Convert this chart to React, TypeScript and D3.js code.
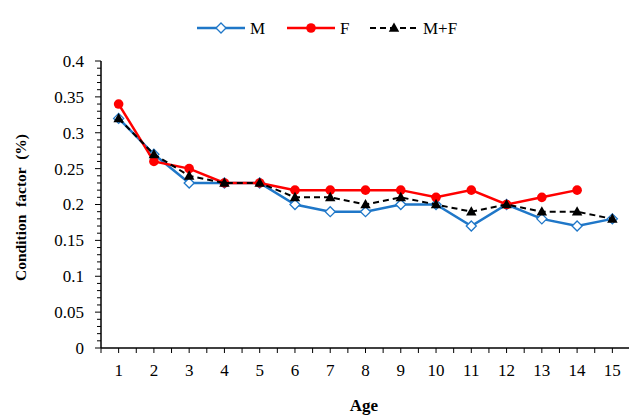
import React from "react";
import * as d3 from "d3";

// Condition factor by age
const ages = [1, 2, 3, 4, 5, 6, 7, 8, 9, 10, 11, 12, 13, 14, 15];
const maleValues = [0.32, 0.27, 0.23, 0.23, 0.23, 0.2, 0.19, 0.19, 0.2, 0.2, 0.17, 0.2, 0.18, 0.17, 0.18];
const femaleValues = [0.34, 0.26, 0.25, 0.23, 0.23, 0.22, 0.22, 0.22, 0.22, 0.21, 0.22, 0.2, 0.21, 0.22];
const combinedValues = [0.32, 0.27, 0.24, 0.23, 0.23, 0.21, 0.21, 0.2, 0.21, 0.2, 0.19, 0.2, 0.19, 0.19, 0.18];
const yTicks = [0, 0.05, 0.1, 0.15, 0.2, 0.25, 0.3, 0.35, 0.4];
const seriesNames = ["M", "F", "M+F"];

const W = 629;
const H = 415;
const FONT = "'Liberation Serif', 'Times New Roman', serif";
const TICK_FS = 17;

const left = 101;
const right = W + 1;
const top = 61;
const bottom = 348;

const App = () => {
  const x = d3.scaleBand<number>().domain(ages).range([left, right]);
  const cx = (a: number) => (x(a) as number) + x.bandwidth() / 2;
  const y = d3.scaleLinear().domain([0, 0.4]).range([bottom, top]);

  const line = d3
    .line<number>()
    .x((_, i) => cx(ages[i]))
    .y((d) => y(d));

  const minorY = d3.range(0, 41).map((i) => i / 100);
  const halfTicks = d3.range(0, ages.length * 2 + 1).map((i) => left + (i * x.bandwidth()) / 2);

  const diamond = (px: number, py: number, s: number) =>
    `M${px},${py - s}L${px + s},${py}L${px},${py + s}L${px - s},${py}Z`;
  const triangle = (px: number, py: number, s: number) =>
    `M${px},${py - s}L${px + s * 0.95},${py + s * 0.7}L${px - s * 0.95},${py + s * 0.7}Z`;

  const blue = "#1F77C8";
  const red = "#FF0000";

  // legend layout
  const legendY = 28;
  const legendItems = [
    { name: seriesNames[0], x0: 197, color: blue },
    { name: seriesNames[1], x0: 287, color: red },
    { name: seriesNames[2], x0: 370, color: "#000" },
  ];

  return (
    <svg width={W} height={H} style={{ display: "block", position: "absolute", left: 0, top: 0, background: "#fff" }}>
      <rect width={W} height={H} fill="#fff" />

      {/* y axis */}
      <line x1={left} x2={left} y1={top} y2={bottom} stroke="#000" strokeWidth={1.5} />
      {minorY.map((v, i) => (
        <line key={"my" + i} x1={left - (i % 5 === 0 ? 6 : 4)} x2={left} y1={y(v)} y2={y(v)} stroke="#000" strokeWidth={1} />
      ))}
      {yTicks.map((v) => (
        <text key={"yl" + v} x={left - 17} y={y(v)} dy="0.35em" textAnchor="end" fontFamily={FONT} fontSize={TICK_FS} fill="#000">
          {String(v)}
        </text>
      ))}

      {/* x axis */}
      <line x1={left} x2={right} y1={bottom} y2={bottom} stroke="#000" strokeWidth={1.5} />
      {halfTicks.map((t, i) => (
        <line key={"xt" + i} x1={t} x2={t} y1={bottom} y2={bottom + 5} stroke="#000" strokeWidth={1} />
      ))}
      {ages.map((a) => (
        <text key={"xl" + a} x={cx(a)} y={370} dy="0.35em" textAnchor="middle" fontFamily={FONT} fontSize={TICK_FS} fill="#000">
          {a}
        </text>
      ))}

      {/* axis titles */}
      <text x={364} y={405} dy="0.35em" textAnchor="middle" fontFamily={FONT} fontSize={17} fontWeight="bold" fill="#000">
        Age
      </text>
      <text
        transform={`translate(21,${(top + bottom) / 2 + 3}) rotate(-90)`}
        dy="0.35em"
        textAnchor="middle"
        fontFamily={FONT}
        fontSize={15.5}
        fontWeight="bold"
        fill="#000"
        style={{ whiteSpace: "pre" }}
      >
        Condition  factor  (%)
      </text>

      {/* M series */}
      <path d={line(maleValues) || ""} fill="none" stroke={blue} strokeWidth={2.5} />
      {maleValues.map((v, i) => (
        <path key={"m" + i} d={diamond(cx(ages[i]), y(v), 5)} fill="#fff" stroke={blue} strokeWidth={1.3} />
      ))}

      {/* F series */}
      <path d={line(femaleValues) || ""} fill="none" stroke={red} strokeWidth={2.5} />
      {femaleValues.map((v, i) => (
        <circle key={"f" + i} cx={cx(ages[i])} cy={y(v)} r={4.8} fill={red} />
      ))}

      {/* M+F series */}
      <path d={line(combinedValues) || ""} fill="none" stroke="#000" strokeWidth={2} strokeDasharray="6,4" />
      {combinedValues.map((v, i) => (
        <path key={"c" + i} d={triangle(cx(ages[i]), y(v), 5.5)} fill="#000" />
      ))}

      {/* legend */}
      {legendItems.map((it, k) => {
        const mid = it.x0 + 24;
        return (
          <g key={"lg" + k}>
            <line
              x1={it.x0}
              x2={it.x0 + 48}
              y1={legendY}
              y2={legendY}
              stroke={it.color}
              strokeWidth={k === 2 ? 2 : 2.5}
              strokeDasharray={k === 2 ? "6,4" : undefined}
            />
            {k === 0 && <path d={diamond(mid, legendY, 5)} fill="#fff" stroke={blue} strokeWidth={1.3} />}
            {k === 1 && <circle cx={mid} cy={legendY} r={4.8} fill={red} />}
            {k === 2 && <path d={triangle(mid, legendY, 5.5)} fill="#000" />}
            <text x={it.x0 + 53} y={legendY} dy="0.35em" fontFamily={FONT} fontSize={17} fill="#000">
              {it.name}
            </text>
          </g>
        );
      })}
    </svg>
  );
};

export default App;
